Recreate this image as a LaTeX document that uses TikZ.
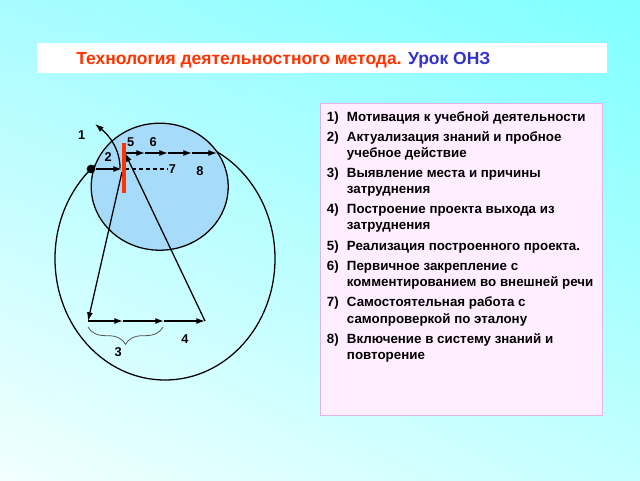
\documentclass[tikz,border=0pt]{standalone}
\usepackage{fontspec}
\setmainfont{Liberation Sans}
\usetikzlibrary{arrows.meta,decorations.pathreplacing,shadings}
\definecolor{titlered}{HTML}{FF3300}
\definecolor{titleblue}{HTML}{3333CC}
\definecolor{barred}{HTML}{FF3300}
\definecolor{smallfill}{HTML}{A6DBFA}
\definecolor{listfill}{HTML}{FFEEFF}
\definecolor{listedge}{HTML}{E2B4E2}
\definecolor{bracegray}{HTML}{555555}
\definecolor{bgtl}{HTML}{A8FCFF}
\definecolor{bgtr}{HTML}{7FFFFF}
\definecolor{bgbl}{HTML}{F2FFFF}
\definecolor{bgbr}{HTML}{C4FFFF}

\begin{document}
\begin{tikzpicture}[x=0.75pt,y=-0.75pt,
        line/.style={black,line width=0.95pt},
        arr/.style={line,-{Latex[length=6.5pt,width=4.5pt]}},
        lbl/.style={font=\bfseries\fontsize{9.6}{11}\selectfont,inner sep=0pt},
        item/.style={font=\bfseries\fontsize{10}{12}\selectfont,inner sep=0pt,anchor=base west}]
        % background
        \useasboundingbox (0,0) rectangle (640,480);
        \shade[upper left=bgtl,upper right=bgtr,lower left=bgbl,lower right=bgbr] (0,0) rectangle (640,480);
        % title
        \fill[white] (37,43) rectangle (607,73);
        \node[anchor=base west,inner sep=0pt,font=\bfseries\fontsize{13.1}{15}\selectfont] (title) at (76,64.3)
            {\textcolor{titlered}{Технология деятельностного метода.} \textcolor{titleblue}{Урок ОНЗ}};
        % list
        \draw[listedge,fill=listfill] (320,103.3) rectangle (602.7,415);
        \foreach \y/\n/\t [count=\i] in {121/1)/Мотивация к учебной деятельности,
                141.7/2)/Актуализация знаний и пробное, 157.7//учебное действие,
                177.7/3)/Выявление места и причины, 193.3//затруднения,
                213.3/4)/Построение проекта выхода из, 229//затруднения,
                250/5)/Реализация построенного проекта.,
                270/6)/Первичное закрепление с, 286.7//комментированием во внешней речи,
                306.7/7)/Самостоятельная работа с, 323.3//самопроверкой по эталону,
                343.3/8)/Включение в систему знаний и, 359//повторение}
            \node[item] (item\i) at (326.7,\y) {\makebox[15pt][l]{\n}\t};
        % circles
        \draw[line] (165,258.7) ellipse [x radius=110,y radius=121.3];
        \draw[line,fill=smallfill] (159.7,186.7) ellipse [x radius=68.5,y radius=63.5];
        % points
        \node[circle,fill=black,inner sep=0pt,minimum size=6.5pt] (dot) at (91,169) {};
        \coordinate (bar) at (122,169);
        \coordinate (dash0) at (125,169);
        \coordinate (dash1) at (167,169);
        \coordinate (arc0) at (120,168);
        \coordinate (arc1) at (95,124);
        \coordinate (t0) at (125,153);
        \coordinate (t1) at (145,153);
        \coordinate (t2) at (168,153);
        \coordinate (t3) at (192,153);
        \coordinate (t4) at (217,153);
        \coordinate (l0) at (122,172);
        \coordinate (b0) at (88,321);
        \coordinate (b1) at (123,321);
        \coordinate (b2) at (164,321);
        \coordinate (b3) at (205,321);
        \coordinate (br0) at (88,327);
        \coordinate (br1) at (163,327);
        % connectors
        \draw[arr] (dot) -- (bar);
        \draw[line,dash pattern=on 3pt off 2.2pt] (dash0) -- (dash1);
        \draw[arr] (arc0) .. controls (120,150) and (110,136) .. (arc1);
        \foreach \a/\b in {t0/t1,t1/t2,t2/t3,t3/t4,b0/b1,b1/b2,b2/b3}
            \draw[arr] (\a) -- (\b);
        \draw[arr] (l0) -- (b0);
        \draw[arr] (b3) -- (t0);
        \draw[bracegray,line width=0.6pt,decorate,decoration={brace,mirror,amplitude=13pt}] (br0) -- (br1);
        % red bar
        \draw[barred,line width=3pt] (123.5,143) -- (123.5,193);
        % labels
        \node[lbl] (n1) at (81.7,135) {1};
        \node[lbl] (n2) at (108.3,157.3) {2};
        \node[lbl] (n3) at (118.3,352.3) {3};
        \node[lbl] (n4) at (185,339.3) {4};
        \node[lbl] (n5) at (130.7,142.3) {5};
        \node[lbl] (n6) at (153.3,142.3) {6};
        \node[lbl] (n7) at (172.5,169.5) {7};
        \node[lbl] (n8) at (200,170.7) {8};
\end{tikzpicture}
\end{document}
